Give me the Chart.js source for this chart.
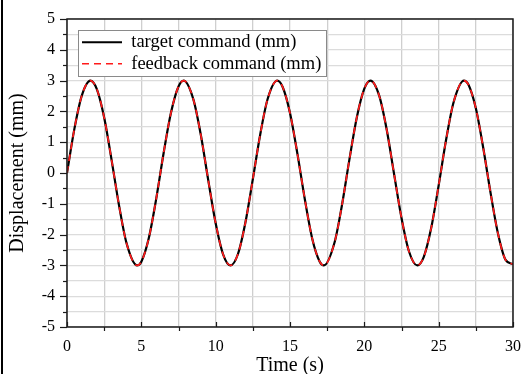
<!DOCTYPE html>
<html>
<head>
<meta charset="utf-8">
<script src="https://cdn.jsdelivr.net/npm/chart.js@4"></script>
<style>
html,body{margin:0;padding:0;background:#fff;}
#wrap{position:relative;width:526px;height:374px;}
#edge{position:absolute;left:1px;top:0;width:2px;height:374px;background:#000;}
</style>
</head>
<body>
<div id="wrap"><canvas id="c" width="526" height="374"></canvas><div id="edge"></div></div>
<script>
const times = [0,0.5,1,1.57,2,2.5,3,3.5,4,4.71,5,5.5,6,6.5,7,7.5,7.85,8.5,9,9.5,10,10.5,11,11.5,12,12.5,13,13.5,14.14,14.5,15,15.5,16,16.5,17,17.28,18,18.5,19,19.5,20,20.42,21,21.5,22,22.5,23,23.56,24,24.5,25,25.5,26,26.7,27,27.5,28,28.5,29,29.5,30];
const targetValues = [0,1.44,2.52,3.00,2.73,1.80,0.42,-1.05,-2.27,-3.00,-2.88,-2.12,-0.84,0.65,1.97,2.81,3.00,2.39,1.24,-0.23,-1.63,-2.64,-3.00,-2.63,-1.61,-0.20,1.26,2.41,3.00,2.80,1.95,0.62,-0.86,-2.14,-2.88,-3.00,-2.25,-1.03,0.45,1.82,2.74,3.00,2.51,1.42,-0.03,-1.46,-2.54,-3.00,-2.72,-1.78,-0.40,1.08,2.29,3.00,2.87,2.10,0.81,-0.67,-1.99,-2.82,-2.96];
const feedbackValues = [0,1.44,2.52,3.00,2.73,1.80,0.42,-1.05,-2.27,-3.00,-2.88,-2.12,-0.84,0.65,1.97,2.81,3.00,2.39,1.24,-0.23,-1.63,-2.64,-3.00,-2.63,-1.61,-0.20,1.26,2.41,3.00,2.80,1.95,0.62,-0.86,-2.14,-2.88,-3.00,-2.25,-1.03,0.45,1.82,2.74,3.00,2.51,1.42,-0.03,-1.46,-2.54,-3.00,-2.72,-1.78,-0.40,1.08,2.29,3.00,2.87,2.10,0.81,-0.67,-1.99,-2.82,-2.96];
const seriesNames = ['target command (mm)', 'feedback command (mm)'];
const xTitle = 'Time (s)';
const yTitle = 'Displacement (mm)';

const FONT = "'Liberation Serif', 'Times New Roman', serif";

const pts = (vals) => times.map((t, i) => ({x: t, y: vals[i]}));

const decor = {
  id: 'decor',
  afterLayout(chart) {
    const lg = chart.legend;
    if (!lg) return;
    const a = chart.chartArea;
    const w = lg.width, h = lg.height;
    lg.left = a.left + 12; lg.right = lg.left + w;
    lg.top = a.top + 11; lg.bottom = lg.top + h;
  },
  afterDatasetsDraw(chart) {
    const ctx = chart.ctx;
    const a = chart.chartArea;
    const xs = chart.scales.x, ys = chart.scales.y;
    ctx.save();
    ctx.strokeStyle = '#1a1a1a';
    ctx.lineWidth = 1.5;
    ctx.strokeRect(a.left, a.top, a.right - a.left, a.bottom - a.top);
    ctx.lineWidth = 1.2;
    for (let v = -5; v <= 5.001; v += 0.5) {
      const y = Math.round(ys.getPixelForValue(v)) + 0.5;
      const major = Math.abs(v - Math.round(v)) < 1e-6;
      ctx.beginPath();
      ctx.moveTo(a.left - (major ? 7 : 4), y);
      ctx.lineTo(a.left, y);
      ctx.stroke();
    }
    for (let v = 0; v <= 30.001; v += 2.5) {
      const x = Math.round(xs.getPixelForValue(v)) + 0.5;
      const major = Math.abs(v / 5 - Math.round(v / 5)) < 1e-6;
      ctx.beginPath();
      if (major) { ctx.moveTo(x, a.bottom); ctx.lineTo(x, a.bottom - 5); }
      else { ctx.moveTo(x, a.bottom); ctx.lineTo(x, a.bottom + 4); }
      ctx.stroke();
    }
    const lg = chart.legend;
    if (lg && lg.legendHitBoxes && lg.legendHitBoxes.length) {
      let l = Infinity, t = Infinity, r = -Infinity, b = -Infinity;
      lg.legendHitBoxes.forEach(hb => {
        l = Math.min(l, hb.left); t = Math.min(t, hb.top);
        r = Math.max(r, hb.left + hb.width); b = Math.max(b, hb.top + hb.height);
      });
      l -= 4; t -= 3; r += 5; b += 3;
      ctx.fillStyle = '#fff';
      ctx.fillRect(l, t, r - l, b - t);
      ctx.strokeStyle = '#8a8a8a';
      ctx.lineWidth = 1;
      ctx.strokeRect(Math.round(l) + 0.5, Math.round(t) + 0.5, Math.round(r - l), Math.round(b - t));
      ctx.restore();
      lg.draw();
      return;
    }
    ctx.restore();
  }
};

new Chart(document.getElementById('c'), {
  type: 'line',
  data: {
    datasets: [
      {
        label: seriesNames[0],
        data: pts(targetValues),
        borderColor: '#000000',
        borderWidth: 2.2,
        pointRadius: 0,
        cubicInterpolationMode: 'monotone',
        fill: false,
        order: 1
      },
      {
        label: seriesNames[1],
        data: pts(feedbackValues),
        borderColor: '#ff1a1a',
        borderWidth: 1.7,
        borderDash: [7, 5],
        pointRadius: 0,
        cubicInterpolationMode: 'monotone',
        fill: false,
        order: 0
      }
    ]
  },
  options: {
    responsive: false,
    animation: false,
    devicePixelRatio: 1,
    layout: { padding: { top: 19, right: 11, left: 0, bottom: 0 } },
    plugins: {
      tooltip: { enabled: false },
      legend: {
        position: 'chartArea',
        align: 'start',
        labels: {
          usePointStyle: true,
          pointStyle: 'line',
          pointStyleWidth: 40,
          boxHeight: 18,
          padding: 3,
          color: '#000',
          font: { family: FONT, size: 18.5 },
          sort: (a, b) => a.datasetIndex - b.datasetIndex,
          generateLabels(chart) {
            const items = Chart.defaults.plugins.legend.labels.generateLabels(chart);
            items.forEach(it => {
              const ds = chart.data.datasets[it.datasetIndex];
              it.lineDash = ds.borderDash || [];
              it.lineWidth = ds.borderWidth;
              it.strokeStyle = ds.borderColor;
              it.pointStyle = 'line';
            });
            return items;
          }
        }
      }
    },
    scales: {
      x: {
        type: 'linear',
        min: 0, max: 30,
        afterFit(s) { s.height = 47; },
        border: { display: false },
        grid: { color: '#cfcfcf', lineWidth: 1.3, tickLength: 5, tickColor: 'rgba(0,0,0,0)' },
        ticks: {
          stepSize: 2.5,
          autoSkip: false,
          maxRotation: 0,
          padding: 5,
          color: '#000',
          font: { family: FONT, size: 16 },
          callback: (v) => (Math.abs(v / 5 - Math.round(v / 5)) < 1e-6 ? String(Math.round(v)) : '')
        },
        title: {
          display: true,
          text: xTitle,
          color: '#000',
          font: { family: FONT, size: 20, lineHeight: 0.8 },
          padding: { top: 0, bottom: 0 }
        }
      },
      y: {
        min: -5, max: 5,
        afterFit(s) { s.width = 67; },
        border: { display: false },
        grid: { color: '#dcdcdc', lineWidth: 1.3, tickLength: 7, tickColor: 'rgba(0,0,0,0)' },
        ticks: {
          stepSize: 0.5,
          autoSkip: false,
          padding: 5,
          color: '#000',
          font: { family: FONT, size: 16 },
          callback: (v) => (Math.abs(v - Math.round(v)) < 1e-6 ? String(Math.round(v)) : '')
        },
        title: {
          display: true,
          text: yTitle,
          color: '#000',
          font: { family: FONT, size: 20, lineHeight: 1 },
          padding: { top: 8, bottom: 0 }
        }
      }
    }
  },
  plugins: [decor]
});
</script>
</body>
</html>
